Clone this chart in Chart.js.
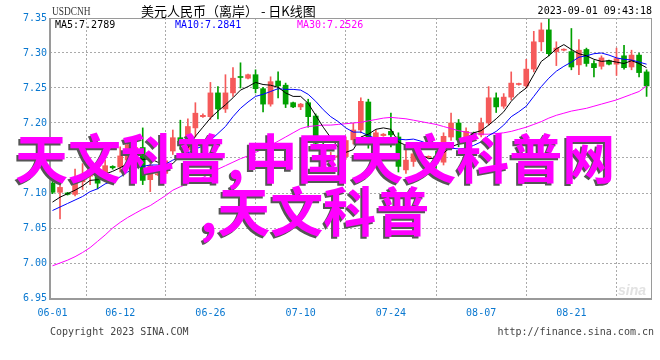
<!DOCTYPE html>
<html><head><meta charset="utf-8">
<script src="https://cdn.jsdelivr.net/npm/chart.js@4.4.0/dist/chart.umd.min.js"></script>
<style>
html,body{margin:0;padding:0;background:#fff;}
#wrap{position:relative;width:660px;height:360px;overflow:hidden;background:#fff;}
canvas{position:absolute;left:0;top:0;}
.t{position:absolute;white-space:nowrap;line-height:1;}
.mono{font-family:"DejaVu Sans Mono","Liberation Mono",monospace;font-size:10px;}
.big{position:absolute;white-space:nowrap;font-family:"Noto Sans CJK SC";font-weight:700;font-size:53px;line-height:53px;color:#ff00ff;text-shadow:-2px 2px 0 #555;}
</style></head>
<body>
<div id="wrap">
<canvas id="c" width="660" height="360"></canvas>
<div class="t" style="left:52px;top:5px;font-family:'Liberation Serif',serif;font-size:12px;color:#333;transform:scaleX(0.78);transform-origin:left top;">USDCNH</div>
<div class="t" style="left:141px;top:4px;font-family:'Noto Sans CJK SC';font-size:13px;color:#000;">美元人民币（离岸） - 日K线图</div>
<div class="t mono" style="right:8px;top:6px;color:#000;">2023-09-01 09:43:18</div>
<div class="t mono" style="left:55px;top:20px;color:#000;">MA5:7.2789</div>
<div class="t mono" style="left:175px;top:20px;color:#0000ff;">MA10:7.2841</div>
<div class="t mono" style="left:297px;top:20px;color:#ff00ff;">MA30:7.2526</div>
<div class="t" style="left:618px;top:283px;font-family:'Liberation Sans',sans-serif;font-style:italic;font-weight:700;font-size:14px;color:#e2e2e2;">sina</div>
<div class="t mono" style="left:50px;top:327px;color:#444;">Copyright 2023 SINA.COM</div>
<div class="t mono" style="right:6px;top:327px;color:#444;">http://finance.sina.com.cn</div>
<div class="big" style="left:15px;top:130px;">天文科普,中国天文科普网</div>
<div class="big" style="left:200px;top:183px;">,天文科普</div>
</div>
<script>
const dates = ['06-01','06-02','06-03','06-05','06-06','06-07','06-08','06-09','06-10','06-12','06-13','06-14','06-15','06-16','06-17','06-19','06-20','06-21','06-22','06-23','06-24','06-26','06-27','06-28','06-29','06-30','07-01','07-03','07-04','07-05','07-06','07-07','07-08','07-10','07-11','07-12','07-13','07-14','07-15','07-17','07-18','07-19','07-20','07-21','07-22','07-24','07-25','07-26','07-27','07-28','07-29','07-31','08-01','08-02','08-03','08-04','08-05','08-07','08-08','08-09','08-10','08-11','08-12','08-14','08-15','08-16','08-17','08-18','08-19','08-21','08-22','08-23','08-24','08-25','08-26','08-28','08-29','08-30','08-31','09-01'];
const xTickLabels = ['06-01','06-12','06-26','07-10','07-24','08-07','08-21'];
const yTicks = [6.95,7.00,7.05,7.10,7.15,7.20,7.25,7.30,7.35];

const open = [7.114,7.101,7.100,7.098,7.116,7.124,7.131,7.124,7.138,7.137,
7.147,7.160,7.165,7.119,7.126,7.128,7.160,7.179,7.162,7.193,
7.209,7.209,7.243,7.220,7.243,7.266,7.264,7.269,7.249,7.227,
7.260,7.254,7.229,7.223,7.229,7.210,7.168,7.141,7.151,7.152,
7.176,7.190,7.230,7.179,7.182,7.188,7.180,7.133,7.145,7.147,
7.151,7.152,7.144,7.180,7.200,7.176,7.186,7.183,7.200,7.236,
7.224,7.237,7.255,7.253,7.277,7.316,7.333,7.302,7.304,7.302,
7.283,7.305,7.285,7.281,7.289,7.284,7.296,7.280,7.297,7.273];
const high = [7.118,7.113,7.101,7.134,7.142,7.150,7.140,7.147,7.139,7.166,
7.178,7.175,7.193,7.142,7.128,7.150,7.190,7.204,7.206,7.229,
7.213,7.258,7.252,7.269,7.279,7.286,7.270,7.276,7.251,7.266,
7.273,7.257,7.230,7.228,7.234,7.213,7.172,7.158,7.154,7.180,
7.200,7.236,7.234,7.190,7.185,7.214,7.186,7.164,7.172,7.158,
7.153,7.160,7.186,7.214,7.205,7.193,7.187,7.207,7.252,7.243,
7.242,7.273,7.257,7.291,7.331,7.343,7.350,7.316,7.306,7.335,
7.319,7.307,7.289,7.296,7.290,7.307,7.311,7.304,7.300,7.276];
const low = [7.099,7.063,7.097,7.096,7.105,7.112,7.106,7.118,7.134,7.130,
7.143,7.152,7.112,7.102,7.125,7.124,7.155,7.162,7.158,7.180,
7.208,7.205,7.206,7.215,7.238,7.250,7.263,7.243,7.216,7.224,
7.236,7.222,7.222,7.219,7.194,7.165,7.135,7.135,7.150,7.148,
7.170,7.186,7.164,7.172,7.181,7.166,7.130,7.128,7.138,7.140,
7.150,7.135,7.140,7.175,7.166,7.170,7.182,7.180,7.197,7.215,
7.221,7.233,7.254,7.250,7.273,7.303,7.296,7.282,7.303,7.276,
7.269,7.281,7.266,7.277,7.283,7.268,7.277,7.276,7.266,7.238];
const close = [7.101,7.108,7.098,7.116,7.127,7.140,7.114,7.139,7.136,7.153,
7.169,7.165,7.118,7.139,7.127,7.146,7.179,7.173,7.195,7.214,
7.211,7.243,7.220,7.243,7.264,7.265,7.269,7.249,7.227,7.259,
7.253,7.227,7.223,7.227,7.209,7.171,7.140,7.150,7.153,7.175,
7.190,7.231,7.172,7.186,7.184,7.183,7.138,7.147,7.156,7.153,
7.152,7.143,7.181,7.200,7.176,7.188,7.183,7.200,7.236,7.223,
7.237,7.257,7.256,7.277,7.316,7.333,7.299,7.307,7.305,7.280,
7.304,7.285,7.279,7.293,7.284,7.292,7.279,7.297,7.272,7.253];
const ma5 = [7.087,7.094,7.099,7.104,7.110,7.118,7.119,7.127,7.131,7.136,
7.142,7.152,7.148,7.149,7.144,7.139,7.142,7.153,7.164,7.181,
7.194,7.207,7.217,7.226,7.236,7.247,7.252,7.258,7.255,7.254,
7.251,7.243,7.238,7.238,7.228,7.211,7.194,7.179,7.165,7.158,
7.162,7.180,7.184,7.191,7.193,7.191,7.173,7.168,7.162,7.155,
7.149,7.150,7.157,7.166,7.170,7.178,7.186,7.189,7.197,7.206,
7.216,7.231,7.242,7.250,7.269,7.288,7.296,7.306,7.312,7.305,
7.299,7.296,7.291,7.288,7.289,7.287,7.285,7.289,7.285,7.279];
const ma10 = [7.075,7.080,7.085,7.090,7.095,7.102,7.106,7.113,7.117,7.123,
7.130,7.136,7.138,7.140,7.140,7.141,7.147,7.151,7.157,7.163,
7.167,7.175,7.185,7.195,7.209,7.221,7.230,7.238,7.241,7.245,
7.249,7.248,7.248,7.247,7.241,7.231,7.219,7.209,7.202,7.193,
7.187,7.187,7.182,7.178,7.176,7.177,7.177,7.176,7.177,7.174,
7.170,7.162,7.163,7.164,7.163,7.164,7.168,7.173,7.182,7.188,
7.197,7.209,7.216,7.224,7.238,7.252,7.264,7.274,7.281,7.287,
7.294,7.296,7.299,7.300,7.297,7.293,7.291,7.290,7.287,7.284];
const ma30 = [6.996,7.000,7.004,7.009,7.015,7.022,7.031,7.040,7.050,7.058,
7.065,7.071,7.077,7.082,7.089,7.096,7.104,7.109,7.113,7.117,
7.122,7.128,7.134,7.139,7.144,7.149,7.153,7.158,7.163,7.168,
7.174,7.180,7.186,7.192,7.195,7.196,7.197,7.197,7.198,7.199,
7.200,7.201,7.203,7.205,7.207,7.208,7.207,7.206,7.204,7.202,
7.200,7.198,7.195,7.192,7.189,7.187,7.185,7.184,7.184,7.185,
7.186,7.188,7.191,7.194,7.198,7.202,7.207,7.211,7.214,7.217,
7.219,7.221,7.224,7.227,7.230,7.233,7.237,7.241,7.245,7.253];

const UP = '#f55a5a', DOWN = '#00a000';
const candleColor = dates.map((d, i) => close[i] >= open[i] ? UP : DOWN);
const xTickIdx = xTickLabels.map(l => dates.indexOf(l));
const BLUE = '#0a78d0';
const MONO = '"DejaVu Sans Mono","Liberation Mono",monospace';

const frame = {
  id: 'frame',
  afterDatasetsDraw(chart) {
    const a = chart.chartArea, c = chart.ctx;
    c.save();
    c.strokeStyle = '#9a9a9a';
    c.lineWidth = 1;
    c.strokeRect(a.left + 0.5, a.top + 0.5, a.right - a.left - 1, a.bottom - a.top);
    c.lineWidth = 2;
    c.beginPath();
    c.moveTo(a.left, a.top); c.lineTo(a.left, a.bottom + 1); c.lineTo(a.right, a.bottom + 1);
    c.stroke();
    c.restore();
  }
};

new Chart(document.getElementById('c'), {
  type: 'bar',
  data: {
    datasets: [
      { type: 'line', label: 'MA5', data: dates.map((d, i) => ({ x: i, y: ma5[i] })), borderColor: '#000', borderWidth: 1, pointRadius: 0, tension: 0, order: 0 },
      { type: 'line', label: 'MA10', data: dates.map((d, i) => ({ x: i, y: ma10[i] })), borderColor: '#0000ff', borderWidth: 1, pointRadius: 0, tension: 0, order: 0 },
      { type: 'line', label: 'MA30', data: dates.map((d, i) => ({ x: i, y: ma30[i] })), borderColor: '#ff00ff', borderWidth: 1, pointRadius: 0, tension: 0, order: 0 },
      { label: 'body', data: dates.map((d, i) => ({ x: i, y: [open[i], close[i]] })), backgroundColor: candleColor, borderWidth: 0, barThickness: 5, minBarLength: 1, grouped: false, order: 1 },
      { label: 'wick', data: dates.map((d, i) => ({ x: i, y: [low[i], high[i]] })), backgroundColor: candleColor, borderWidth: 0, barThickness: 1, minBarLength: 1, grouped: false, order: 2 }
    ]
  },
  options: {
    responsive: false,
    devicePixelRatio: 1,
    animation: false,
    layout: { padding: { left: 0, right: 8, top: 18, bottom: 0 } },
    plugins: { legend: { display: false }, tooltip: { enabled: false }, title: { display: false } },
    scales: {
      x: {
        type: 'linear', min: -0.332, max: 79.72, offset: false,
        afterBuildTicks: (ax) => { ax.ticks = xTickIdx.map(v => ({ value: v })); },
        afterFit: (s) => { s.height = 62; },
        ticks: { autoSkip: false, maxRotation: 0, padding: 9, color: BLUE, font: { family: MONO, size: 10 },
          callback: (v) => dates[v] },
        grid: { drawTicks: false, color: (ctx) => (ctx.tick && ctx.tick.value === 0) ? 'rgba(0,0,0,0)' : '#aaaaaa', lineWidth: 1 },
        border: { display: false, dash: [2, 2] }
      },
      y: {
        type: 'linear', min: 6.95, max: 7.35,
        afterBuildTicks: (ax) => { ax.ticks = yTicks.map(v => ({ value: v })); },
        afterFit: (s) => { s.width = 50; },
        ticks: { padding: 3, color: BLUE, font: { family: MONO, size: 10 }, callback: (v) => Number(v).toFixed(2) },
        grid: { drawTicks: false, color: '#aaaaaa', lineWidth: 1 },
        border: { display: false, dash: [2, 2] }
      }
    }
  },
  plugins: [frame]
});
</script>
</body></html>
